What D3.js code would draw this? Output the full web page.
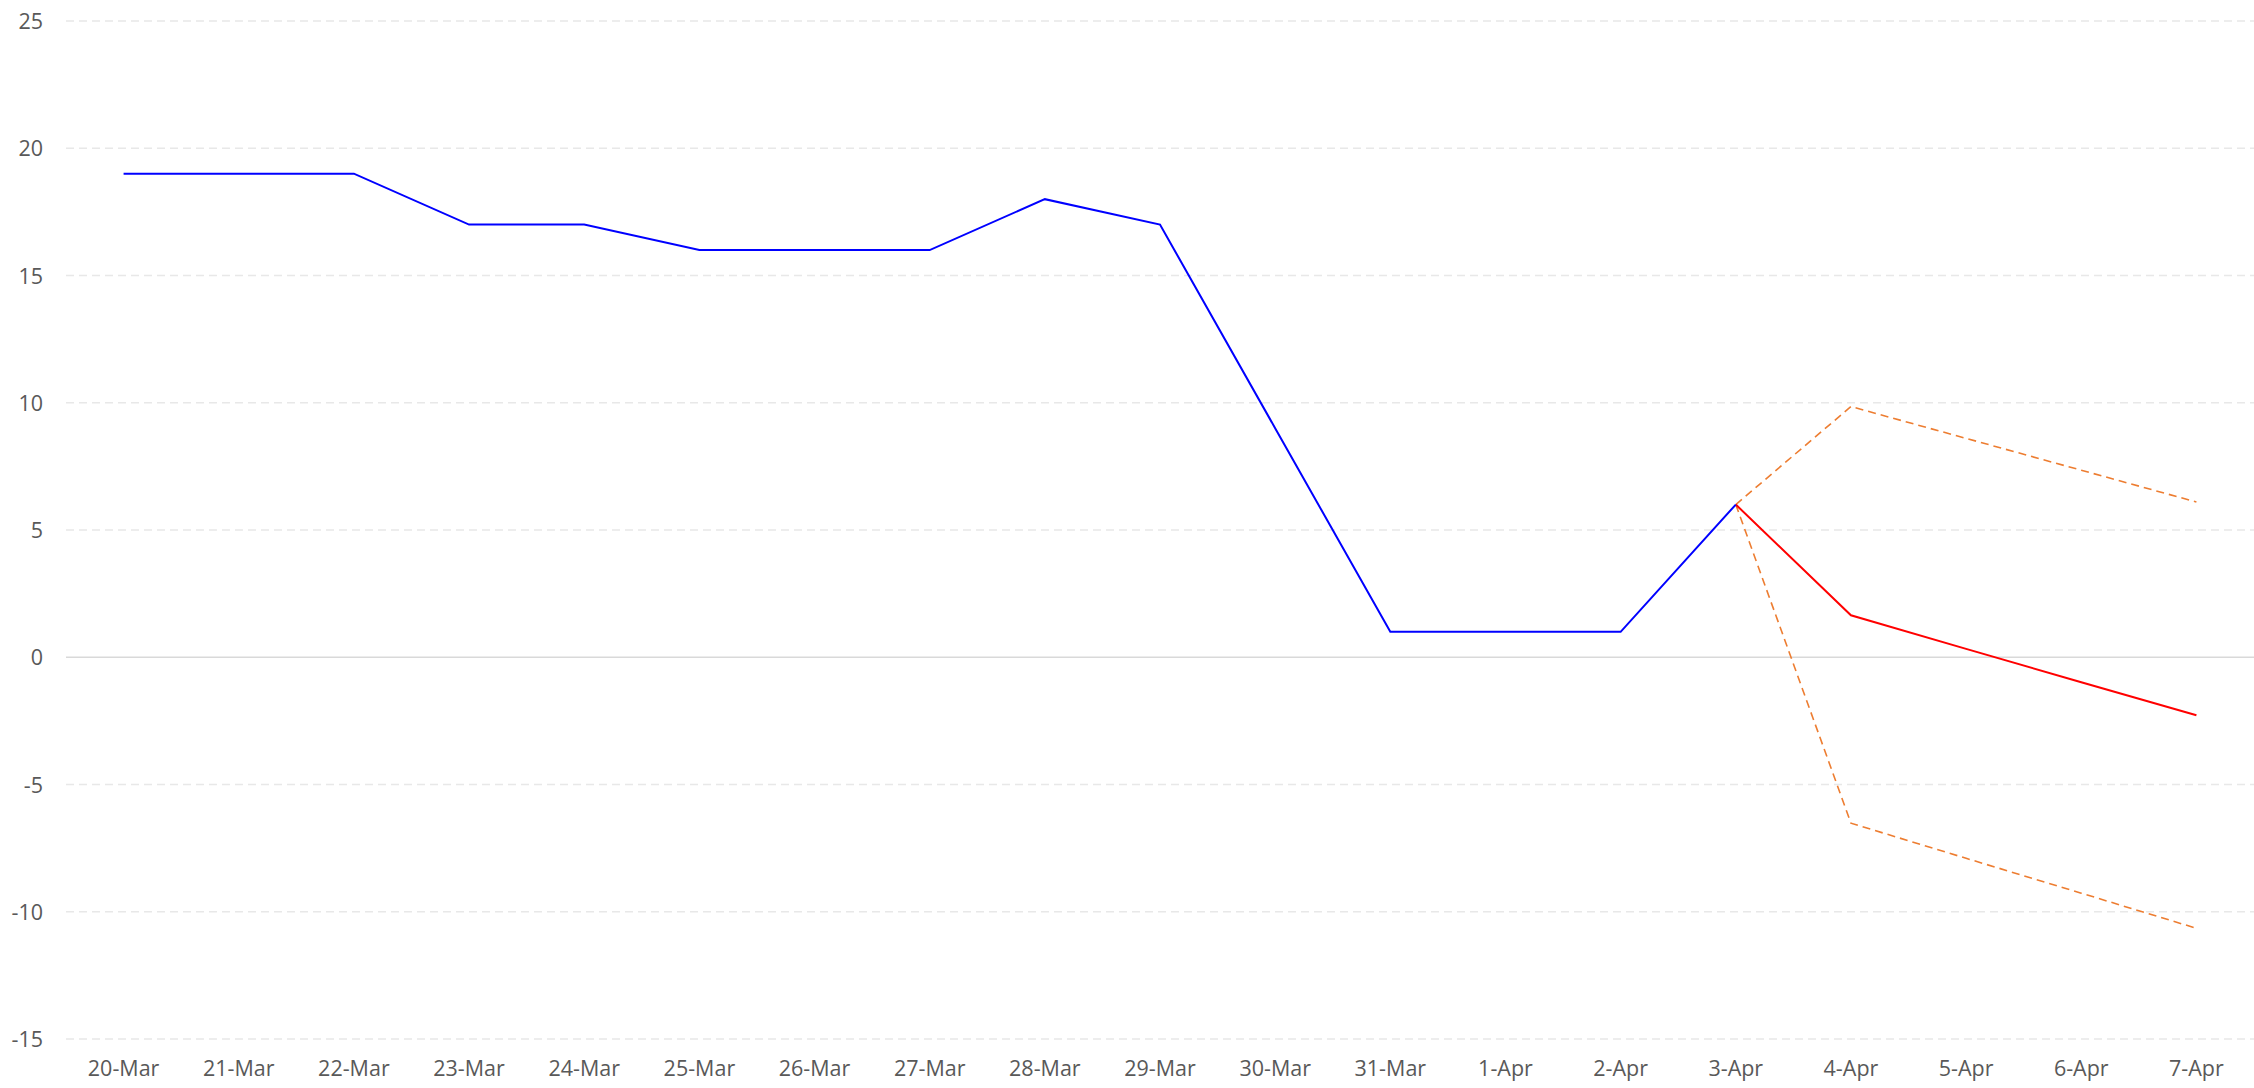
<!DOCTYPE html>
<html><head><meta charset="utf-8">
<script src="https://cdn.jsdelivr.net/npm/d3@7"></script>
<style>
html,body{margin:0;padding:0;background:#fff;}
svg text{font-family:"Open Sans",sans-serif;}
</style></head>
<body>
<svg id="c" width="2254" height="1088"></svg>
<script>
const categories = ["20-Mar","21-Mar","22-Mar","23-Mar","24-Mar","25-Mar","26-Mar","27-Mar","28-Mar","29-Mar","30-Mar","31-Mar","1-Apr","2-Apr","3-Apr","4-Apr","5-Apr","6-Apr","7-Apr"];
const actual   = [19,19,19,17,17,16,16,16,18,17,9,1,1,1,6,null,null,null,null];
const forecast = [null,null,null,null,null,null,null,null,null,null,null,null,null,null,6,1.65,0.33,-0.98,-2.28];
const upper    = [null,null,null,null,null,null,null,null,null,null,null,null,null,null,6,9.85,8.6,7.35,6.1];
const lower    = [null,null,null,null,null,null,null,null,null,null,null,null,null,null,6,-6.52,-7.9,-9.27,-10.65];
const yTicks   = [25,20,15,10,5,0,-5,-10,-15];

const svg = d3.select("#c");
const x = d3.scaleBand().domain(categories).range([66, 2254]).padding(0);
const y = d3.scaleLinear().domain([-15, 25]).range([1039, 21]);

// gridlines
svg.append("g").selectAll("line").data(yTicks).join("line")
  .attr("x1", 66).attr("x2", 2254)
  .attr("y1", d => y(d)).attr("y2", d => y(d))
  .attr("stroke", d => d === 0 ? "#d9d9d9" : "#e8e8e8")
  .attr("stroke-width", d => d === 0 ? 1.5 : 1.3)
  .attr("stroke-dasharray", d => d === 0 ? null : "8,5");

// y axis labels
const yAxis = svg.append("g").attr("transform", "translate(43,0)")
  .call(d3.axisLeft(y).tickValues(yTicks).tickSize(0).tickPadding(0).tickFormat(d => String(d)));
yAxis.select(".domain").remove();
yAxis.selectAll("text").attr("font-size", 21.5).attr("fill", "#595959")
  .attr("font-family", "Open Sans, sans-serif").attr("dy", "0.35em");

// x axis labels
const xAxis = svg.append("g").attr("transform", "translate(0,1061)")
  .call(d3.axisBottom(x).tickSize(0).tickPadding(0));
xAxis.select(".domain").remove();
xAxis.selectAll("text").attr("font-size", 21.5).attr("fill", "#595959")
  .attr("font-family", "Open Sans, sans-serif").attr("dy", "0.71em");

const cx = (d, i) => x(categories[i]) + x.bandwidth() / 2;
const mkLine = () => d3.line().defined(d => d !== null).x(cx).y(d => y(d));

svg.append("path").datum(upper).attr("d", mkLine()).attr("fill", "none")
  .attr("stroke", "#ED7D31").attr("stroke-width", 1.6).attr("stroke-dasharray", "8,5");
svg.append("path").datum(lower).attr("d", mkLine()).attr("fill", "none")
  .attr("stroke", "#ED7D31").attr("stroke-width", 1.6).attr("stroke-dasharray", "8,5");
svg.append("path").datum(forecast).attr("d", mkLine()).attr("fill", "none")
  .attr("stroke", "#ff0000").attr("stroke-width", 2);
svg.append("path").datum(actual).attr("d", mkLine()).attr("fill", "none")
  .attr("stroke", "#0000ff").attr("stroke-width", 2);
</script>
</body></html>
